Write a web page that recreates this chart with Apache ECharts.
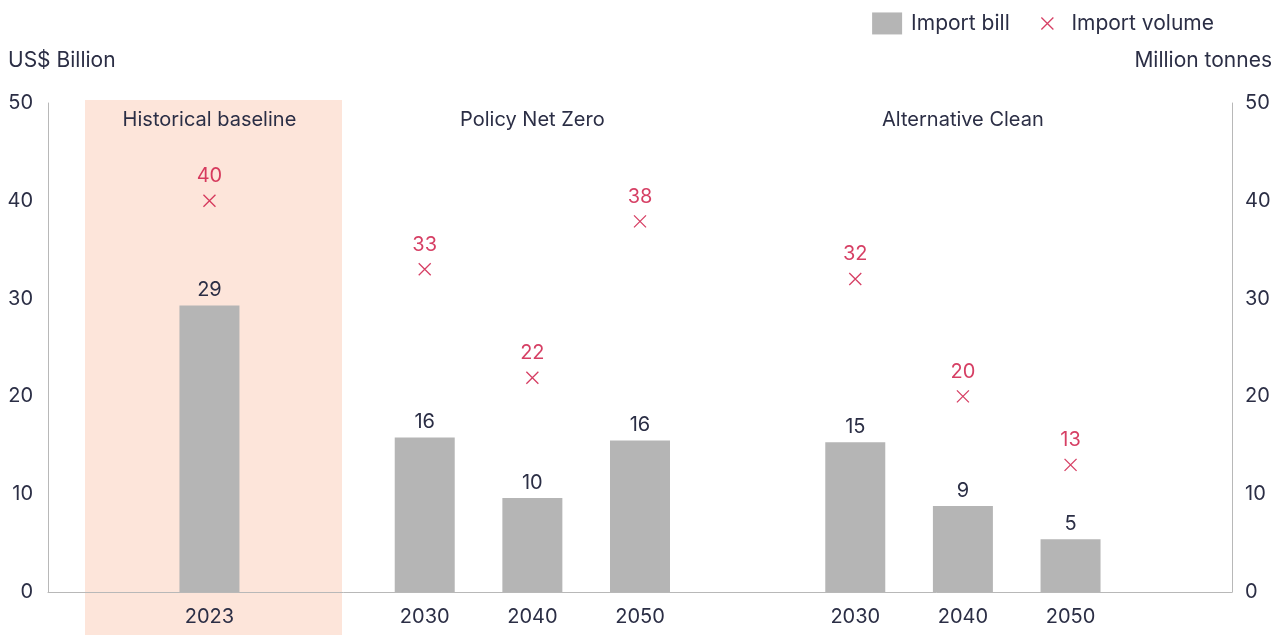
<!DOCTYPE html>
<html>
<head>
<meta charset="utf-8">
<script src="https://cdn.jsdelivr.net/npm/echarts@6/dist/echarts.min.js"></script>
<style>
  html, body { margin: 0; padding: 0; background: #fff; }
  #chart { width: 1281px; height: 641px; }
</style>
</head>
<body>
<div id="chart"></div>
<script>
// empty slots keep the gaps between the scenario groups
var years = ['', '2023', '', '2030', '2040', '2050', '', '2030', '2040', '2050', ''];
var groups = ['', 'Historical baseline', '', '', 'Policy Net Zero', '', '', '', 'Alternative Clean', '', ''];
var importBill = [null, 29.3, null, 15.8, 9.6, 15.5, null, 15.3, 8.8, 5.4, null];
var importVolume = [null, 40, null, 33, 21.9, 37.9, null, 32, 20, 13, null];

(function () {
  var myChart = echarts.init(document.getElementById('chart'));
  var textColor = '#2b2e45';
  var lineColor = '#b8b8b8';
  var red = '#cc0f3d';
  var font = 'Inter, "Noto Sans", sans-serif';
  // extra move-to points only widen the icon box so the cross stays small
  var legendCross = 'path://M-7.5,-4M17.5,14M0,0L10,10M10,0L0,10';

  var option = {
    textStyle: { fontFamily: font },
    animation: false,
    legend: {
      right: 62,
      top: 7,
      itemWidth: 30,
      itemHeight: 22,
      itemGap: 22,
      textStyle: { color: textColor, fontSize: 21, fontFamily: font, padding: [0, 0, 0, 4] },
      data: [
        { name: 'Import bill', icon: 'rect', itemStyle: { color: '#b5b5b5' } },
        { name: 'Import volume', icon: legendCross,
          itemStyle: { color: 'transparent', borderColor: red, borderWidth: 1.3 } }
      ]
    },
    grid: { left: 48, right: 49, top: 103, bottom: 49, outerBoundsMode: 'none', containLabel: false },
    xAxis: [
      {
        type: 'category',
        data: years,
        z: 3,
        axisLine: { lineStyle: { color: lineColor } },
        axisTick: { show: false },
        axisLabel: { interval: 0, margin: 15, color: textColor, fontSize: 20, fontFamily: font }
      },
      {
        type: 'category',
        position: 'top',
        data: groups,
        z: 3,
        axisLine: { show: false },
        axisTick: { show: false },
        axisLabel: { interval: 0, inside: true, margin: 7, color: textColor, fontSize: 20, fontFamily: font }
      }
    ],
    yAxis: [
      {
        type: 'value', min: 0, max: 50, interval: 10,
        name: 'US$ Billion',
        nameGap: 32,
        nameTextStyle: { color: textColor, fontSize: 21, align: 'left', padding: [0, 0, 0, -40], fontFamily: font },
        axisLine: { show: true, lineStyle: { color: lineColor } },
        axisTick: { show: false },
        splitLine: { show: false },
        axisLabel: { margin: 15, color: textColor, fontSize: 20, fontFamily: font }
      },
      {
        type: 'value', min: 0, max: 50, interval: 10,
        name: 'Million tonnes',
        nameGap: 32,
        nameTextStyle: { color: textColor, fontSize: 21, align: 'right', padding: [0, -40, 0, 0], fontFamily: font },
        axisLine: { show: true, lineStyle: { color: lineColor } },
        axisTick: { show: false },
        splitLine: { show: false },
        axisLabel: { margin: 13, color: textColor, fontSize: 20, fontFamily: font }
      }
    ],
    series: [
      {
        name: 'Import bill',
        type: 'bar',
        barWidth: 60,
        data: importBill,
        itemStyle: { color: '#b5b5b5' },
        label: {
          show: true, position: 'top', distance: 5,
          color: textColor, fontSize: 20, fontFamily: font,
          formatter: function (p) { return Math.round(p.value); }
        },
        markArea: {
          silent: true,
          itemStyle: { color: '#fde5da' },
          data: [[{ x: 85, y: 100 }, { x: 342, y: 635 }]]
        }
      },
      {
        name: 'Import volume',
        type: 'scatter',
        yAxisIndex: 1,
        symbol: 'path://M0,0L10,10M10,0L0,10',
        symbolSize: 12,
        data: importVolume,
        itemStyle: { color: 'transparent', borderColor: red, borderWidth: 1.3 },
        label: {
          show: true, position: 'top', distance: 8,
          color: red, fontSize: 20, fontFamily: font,
          formatter: function (p) { return Math.round(p.value); }
        }
      }
    ]
  };

  myChart.setOption(option);
  window.addEventListener('resize', function () {
    myChart.resize();
  });
})();
</script>
</body>
</html>
